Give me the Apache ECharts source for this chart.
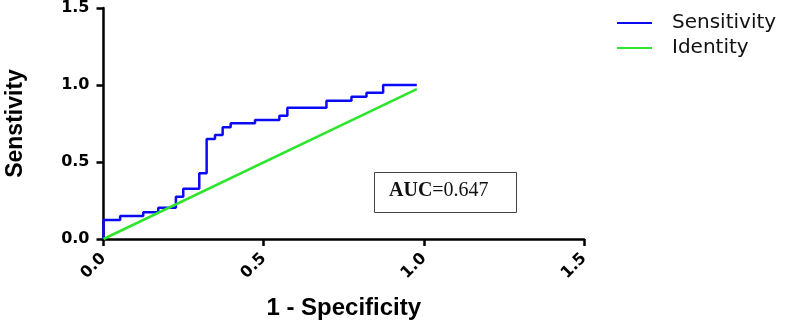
<!DOCTYPE html>
<html>
<head>
<meta charset="utf-8">
<script src="https://cdn.jsdelivr.net/npm/echarts@6/dist/echarts.min.js"></script>
<style>
  html, body { margin: 0; padding: 0; background: #fff; }
  #chart { width: 786px; height: 324px; }
</style>
</head>
<body>
<div id="chart"></div>
<script>
// ROC data (1 - specificity, sensitivity)
let fpr = [0, 0, 0.052, 0.124, 0.171, 0.226, 0.249, 0.299, 0.322, 0.348, 0.372, 0.397, 0.473, 0.549, 0.574, 0.696, 0.774, 0.821, 0.873, 0.978];
let tpr = [0, 0.123, 0.149, 0.173, 0.203, 0.275, 0.327, 0.427, 0.649, 0.675, 0.725, 0.751, 0.773, 0.801, 0.853, 0.898, 0.924, 0.95, 1.0, 1.0];
let identityX = [0, 0.978];
let identityY = [0, 0.974];
let axisTicks = [0, 0.5, 1.0, 1.5];
let aucText = '0.647';

let rocData = fpr.map((v, i) => [v, tpr[i]]);
let idData = identityX.map((v, i) => [v, identityY[i]]);

let font = 'Liberation Sans, Arial, sans-serif';
let wideFont = 'DejaVu Sans, sans-serif';
let serif = 'Liberation Serif, DejaVu Serif, serif';
let myChart = echarts.init(document.getElementById('chart'));
myChart.setOption({
  animation: false,
  grid: {
    left: 103.5,
    right: 202,
    top: 8,
    bottom: 85,
    outerBoundsMode: 'none',
    containLabel: false
  },
  legend: {
    orient: 'vertical',
    left: 617,
    top: 13,
    padding: 0,
    itemWidth: 35,
    itemHeight: 2,
    itemGap: 5,
    icon: 'rect',
    textStyle: {
      fontFamily: wideFont,
      fontSize: 20,
      color: '#111',
      padding: [0, 0, 0, 15]
    },
    data: ['Sensitivity', 'Identity']
  },
  xAxis: {
    type: 'value',
    min: 0,
    max: 1.5,
    interval: 0.5,
    name: '1 - Specificity',
    nameLocation: 'middle',
    nameGap: 57,
    nameTextStyle: {
      fontFamily: font,
      fontWeight: 'bold',
      fontSize: 24,
      color: '#000'
    },
    splitLine: { show: false },
    axisLine: { lineStyle: { color: '#000', width: 2.5 } },
    axisTick: { length: 7, lineStyle: { color: '#000', width: 2.5 } },
    axisLabel: {
      rotate: 45,
      margin: 17,
      fontFamily: wideFont,
      fontWeight: 'bold',
      fontSize: 16,
      color: '#000',
      formatter: v => v.toFixed(1)
    }
  },
  yAxis: {
    type: 'value',
    min: 0,
    max: 1.5,
    interval: 0.5,
    name: 'Senstivity',
    nameLocation: 'middle',
    nameGap: 76,
    nameTextStyle: {
      fontFamily: 'Liberation Sans Narrow, ' + font,
      fontWeight: 'bold',
      fontSize: 23,
      color: '#000'
    },
    splitLine: { show: false },
    axisLine: { show: true, lineStyle: { color: '#000', width: 2.5 } },
    axisTick: { show: true, length: 7, lineStyle: { color: '#000', width: 2.5 } },
    axisLabel: {
      margin: 14,
      fontFamily: wideFont,
      fontWeight: 'bold',
      fontSize: 16,
      color: '#000',
      formatter: v => v.toFixed(1)
    }
  },
  series: [{
    name: 'Sensitivity',
    type: 'line',
    step: 'end',
    showSymbol: false,
    color: '#0a0af5',
    lineStyle: { width: 2.5, color: '#0a0af5' },
    z: 3,
    data: rocData
  }, {
    name: 'Identity',
    type: 'line',
    showSymbol: false,
    color: '#2ee52e',
    lineStyle: { width: 2.5, color: '#2ee52e' },
    z: 4,
    data: idData
  }],
  graphic: [{
    type: 'rect',
    left: 374,
    top: 172,
    shape: { width: 142, height: 40 },
    style: { fill: '#fff', stroke: '#444', lineWidth: 1 }
  }, {
    type: 'text',
    left: 389,
    top: 181,
    style: {
      text: '{b|AUC}{n|=' + aucText + '}',
      rich: {
        b: { fontFamily: serif, fontWeight: 'bold', fontSize: 20, fill: '#111' },
        n: { fontFamily: serif, fontSize: 20, fill: '#111' }
      }
    }
  }]
});
</script>
</body>
</html>
